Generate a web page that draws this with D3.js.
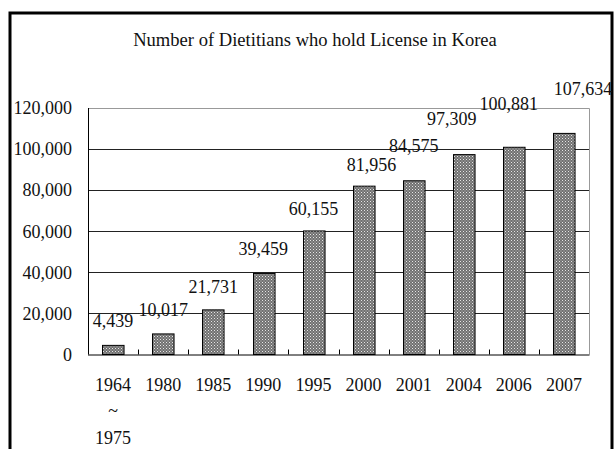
<!DOCTYPE html>
<html>
<head>
<meta charset="utf-8">
<script src="https://cdn.jsdelivr.net/npm/d3@7"></script>
<style>
  body { margin: 0; background: #fff; }
  text { font-family: "Liberation Serif", "Times New Roman", serif; fill: #111; }
</style>
</head>
<body>
<div id="chart"></div>
<script>
// Data
var years = ["1964", "1980", "1985", "1990", "1995", "2000", "2001", "2004", "2006", "2007"];
var licensed = [4439, 10017, 21731, 39459, 60155, 81956, 84575, 97309, 100881, 107634];
var yTicks = [0, 20000, 40000, 60000, 80000, 100000, 120000];
var firstSpan = ["~", "1975"];

// value label nudges (layout, px): how far above the bar top, and sideways
var labelLift = [24, 24, 23, 24, 22, 21, 35, 36, 43, 44];
var labelShift = [0, 0, 0, 0, 0, 8, 0, -12, -5, 19];

var W = 614, H = 449;
var margin = {top: 108, left: 88, right: 25, bottom: 94.5};
var width = W - margin.left - margin.right,
    height = H - margin.top - margin.bottom;

var svg = d3.select("#chart").append("svg")
    .attr("width", W)
    .attr("height", H);

// halftone fill like the original
var pat = svg.append("defs").append("pattern")
    .attr("id", "dots")
    .attr("patternUnits", "userSpaceOnUse")
    .attr("width", 3).attr("height", 3);
pat.append("rect").attr("width", 3).attr("height", 3).attr("fill", "#707070");
pat.append("rect").attr("x", 0).attr("y", 0).attr("width", 1).attr("height", 1).attr("fill", "#e6e6e6");
pat.append("rect").attr("x", 1.5).attr("y", 1.5).attr("width", 1).attr("height", 1).attr("fill", "#c8c8c8");

// outer frame (runs off the bottom)
svg.append("path")
    .attr("d", "M10,460 L10,13 L612,13 L612,460")
    .attr("fill", "none")
    .attr("stroke", "#000")
    .attr("stroke-width", 3);

// Title
var title = svg.append("text")
    .attr("x", 315)
    .attr("y", 46)
    .attr("text-anchor", "middle")
    .style("font-size", "16px")
    .text("Number of Dietitians who hold License in Korea");
var tw = title.node().getComputedTextLength();
title.style("font-size", (16 * 364 / tw) + "px");

var g = svg.append("g")
    .attr("transform", "translate(" + margin.left + "," + margin.top + ")");

var x = d3.scaleBand()
    .domain(years)
    .range([0, width])
    .paddingInner(0.57)
    .paddingOuter(0.285);

var y = d3.scaleLinear()
    .domain([0, 120000])
    .range([height, 0]);

// gridlines
g.selectAll(".grid")
    .data(yTicks.filter(function(d) { return d > 0 && d < 120000; }))
    .enter().append("line")
    .attr("class", "grid")
    .attr("x1", 0).attr("x2", width)
    .attr("y1", function(d) { return Math.round(y(d)) + 0.5; })
    .attr("y2", function(d) { return Math.round(y(d)) + 0.5; })
    .attr("stroke", "#222");

// plot frame top / right (grey)
g.append("path")
    .attr("d", "M0," + (y(120000) + 0.5) + " H" + (width + 0.5) + " V" + height)
    .attr("fill", "none")
    .attr("stroke", "#999");

// y axis labels
var yAxis = g.append("g")
    .call(d3.axisLeft(y).tickValues(yTicks).tickSize(0).tickPadding(16)
        .tickFormat(d3.format(",")));
yAxis.select(".domain").remove();
yAxis.selectAll("text")
    .style("font-size", "18px")
    .style("font-family", "'Liberation Serif', serif")
    .attr("fill", "#111");

// left axis line
g.append("line")
    .attr("x1", 0.5).attr("x2", 0.5)
    .attr("y1", y(120000)).attr("y2", height)
    .attr("stroke", "#000");

// bars
g.selectAll(".bar")
    .data(licensed)
    .enter().append("rect")
    .attr("class", "bar")
    .attr("x", function(d, i) { return Math.round(x(years[i])) + 0.5; })
    .attr("y", function(d) { return y(d); })
    .attr("width", x.bandwidth())
    .attr("height", function(d) { return height - y(d); })
    .attr("fill", "url(#dots)")
    .attr("stroke", "#000")
    .attr("stroke-width", 1);

// x axis
var step = x.step();
g.append("line")
    .attr("x1", 0).attr("x2", width + 0.5)
    .attr("y1", height + 0.5).attr("y2", height + 0.5)
    .attr("stroke", "#000");

g.selectAll(".xtick")
    .data(d3.range(1, years.length))
    .enter().append("line")
    .attr("class", "xtick")
    .attr("x1", function(i) { return Math.round(i * step) + 0.5; })
    .attr("x2", function(i) { return Math.round(i * step) + 0.5; })
    .attr("y1", height).attr("y2", height - 5)
    .attr("stroke", "#000");

g.selectAll(".xlabel")
    .data(years)
    .enter().append("text")
    .attr("class", "xlabel")
    .attr("x", function(d) { return x(d) + x.bandwidth() / 2; })
    .attr("y", height + 36)
    .attr("text-anchor", "middle")
    .style("font-size", "18px")
    .text(function(d) { return d; });

g.selectAll(".span")
    .data(firstSpan)
    .enter().append("text")
    .attr("class", "span")
    .attr("x", x(years[0]) + x.bandwidth() / 2)
    .attr("y", function(d, i) { return height + 62 + i * 27; })
    .attr("text-anchor", "middle")
    .style("font-size", "18px")
    .text(function(d) { return d; });

// value labels
g.selectAll(".val")
    .data(licensed)
    .enter().append("text")
    .attr("class", "val")
    .attr("x", function(d, i) { return x(years[i]) + x.bandwidth() / 2 + labelShift[i]; })
    .attr("y", function(d, i) { return y(d) - labelLift[i] + 6; })
    .attr("text-anchor", "middle")
    .style("font-size", "18px")
    .text(function(d) { return d3.format(",")(d); });
</script>
</body>
</html>
